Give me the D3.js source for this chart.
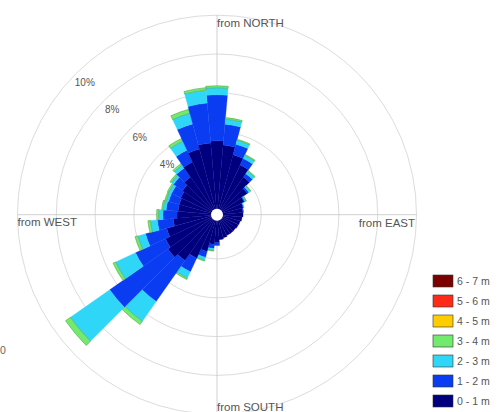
<!DOCTYPE html>
<html><head><meta charset="utf-8">
<script src="https://cdn.jsdelivr.net/npm/d3@7"></script>
<style>
html,body{margin:0;padding:0;background:#fff;}
text{font-family:"Liberation Sans",Arial,sans-serif;}
</style></head>
<body><svg id="c" width="499" height="412"></svg>
<script>
// direction bins (degrees, "from", clockwise from north)
const directions = [0,10,20,30,40,50,60,70,80,90,100,110,120,130,140,150,160,170,
                    180,190,200,210,220,230,240,250,260,270,280,290,300,310,320,330,340,350];
// percentage of occurrence per wave-height class
const h0_1 = [3.53,3.32,2.91,2.55,2.09,1.62,1.26,1.11,1.06,1.06,1.01,0.95,0.93,0.90,0.90,0.90,0.95,1.01,
              1.16,1.26,1.68,2.19,2.60,2.81,2.65,2.40,1.98,1.78,1.73,1.73,1.78,1.88,2.09,2.71,3.22,3.43];
const h1_2 = [2.37,1.08,0.57,0.36,0.21,0.10,0.05,0.03,0.03,0,0,0,0,0,0,0,0,0,
              0.15,0.21,0.31,0.77,2.58,3.66,1.70,1.13,0.82,0.72,0.62,0.57,0.52,0.57,0.57,0.67,1.34,2.06];
const h2_3 = [0.36,0.26,0.21,0.18,0.15,0.10,0.05,0.03,0,0,0,0,0,0,0,0,0,0,
              0,0.10,0.15,0.36,1.24,2.47,1.13,0.41,0.36,0.23,0.15,0.13,0.15,0.15,0.18,0.52,0.57,0.67];
const h3_4 = [0.10,0.08,0.05,0.05,0.05,0.03,0.03,0,0,0,0,0,0,0,0,0,0,0,
              0,0.03,0.05,0.08,0.21,0.31,0.15,0.15,0.13,0.10,0.08,0.08,0.08,0.08,0.10,0.15,0.21,0.13];
const h4_5 = [0,0,0,0,0,0,0,0,0,0,0,0,0,0,0,0,0,0,0,0,0,0,0,0,0,0,0,0,0,0,0,0,0,0,0,0];
const h5_6 = [0,0,0,0,0,0,0,0,0,0,0,0,0,0,0,0,0,0,0,0,0,0,0,0,0,0,0,0,0,0,0,0,0,0,0,0];
const h6_7 = [0,0,0,0,0,0,0,0,0,0,0,0,0,0,0,0,0,0,0,0,0,0,0,0,0,0,0,0,0,0,0,0,0,0,0,0];
const classLabels = ["0 - 1 m","1 - 2 m","2 - 3 m","3 - 4 m","4 - 5 m","5 - 6 m","6 - 7 m"];
const classColors = ["#00007f","#0a3cf2","#2fd6f7","#72ea6e","#ffcc00","#ff2a18","#7d0000"];
const ringTicks = [2,4,6,8,10];
const ringLabelTicks = [4,6,8,10];
const axisLabels = ["from NORTH","from EAST","from SOUTH","from WEST"];

const svg = d3.select("#c");
const cx = 217, cy = 214.7;
const r = d3.scaleLinear().domain([0,10]).range([5.5,199.5]);
const R = r(10);
const g = svg.append("g").attr("transform",`translate(${cx},${cy})`);

// rings
g.selectAll("circle.ring").data(ringTicks).join("circle")
  .attr("r",d=>r(d)).attr("fill","none").attr("stroke","#dcdcdc").attr("stroke-width",1);
// axes
g.append("line").attr("x1",-R).attr("x2",R).attr("y1",0).attr("y2",0).attr("stroke","#c4c4c4").attr("stroke-width",0.8);
g.append("line").attr("x1",0).attr("x2",0).attr("y1",-R).attr("y2",R).attr("stroke","#c4c4c4").attr("stroke-width",0.8);

// percent labels
g.selectAll("text.pct").data(ringLabelTicks).join("text")
  .attr("x",d=>-(r(d)-12.5)*Math.SQRT1_2).attr("y",d=>-(r(d)-12.5)*Math.SQRT1_2)
  .attr("text-anchor","middle").attr("dominant-baseline","central")
  .attr("font-size",10).attr("fill","#555").text(d=>d+"%");

// stacked bars
const series = [h0_1,h1_2,h2_3,h3_4,h4_5,h5_6,h6_7];
const bw = 10*Math.PI/180;
const arc = d3.arc();
const segs = [];
directions.forEach((dir,i)=>{
  let cum = 0;
  series.forEach((s,k)=>{
    const v = s[i];
    if (v>0){
      const a = dir*Math.PI/180;
      segs.push({inner:r(cum),outer:r(cum+v),start:a-bw/2,end:a+bw/2,k});
      cum += v;
    }
  });
});
g.selectAll("path.bar").data(segs).join("path")
  .attr("d",d=>arc({innerRadius:d.inner,outerRadius:d.outer,startAngle:d.start,endAngle:d.end}))
  .attr("fill",d=>classColors[d.k])
  .attr("stroke",d=>d.k>=3 ? d3.color(classColors[d.k]).darker(1) : classColors[d.k])
  .attr("stroke-width",d=>d.k>=3 ? 0.6 : 0.3);

// hole
g.append("circle").attr("r",r(0)+0.5).attr("fill","#fff");

// direction labels
const lab = svg.append("g").attr("font-size",11.5).attr("fill","#555");
lab.append("text").attr("x",cx).attr("y",27).text(axisLabels[0]);
lab.append("text").attr("x",cx+R-1.5).attr("y",227).attr("text-anchor","end").text(axisLabels[1]);
lab.append("text").attr("x",cx).attr("y",411).text(axisLabels[2]);
lab.append("text").attr("x",cx-R).attr("y",226).text(axisLabels[3]);

// partial character at left edge
svg.append("text").attr("x",0).attr("y",354).attr("font-size",10.5).attr("fill","#666").text("0");

// legend
const leg = svg.append("g");
const order = [6,5,4,3,2,1,0];
order.forEach((k,j)=>{
  leg.append("rect").attr("x",433).attr("y",275+j*20).attr("width",20).attr("height",12)
    .attr("fill",classColors[k]).attr("stroke","#333").attr("stroke-width",0.6);
  leg.append("text").attr("x",457).attr("y",285+j*20).attr("font-size",10.5).attr("fill","#555").text(classLabels[k]);
});
</script></body></html>
